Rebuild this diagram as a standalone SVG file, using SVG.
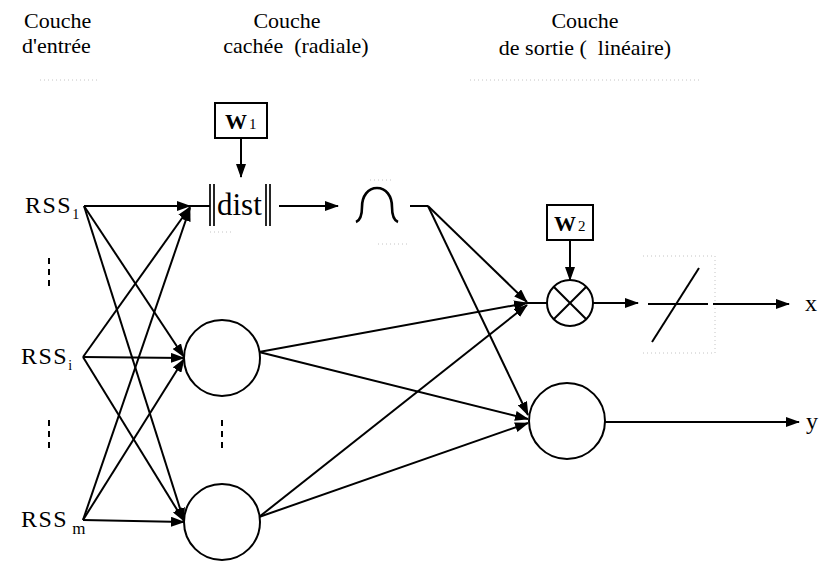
<svg xmlns="http://www.w3.org/2000/svg" width="822" height="565" viewBox="0 0 822 565">
  <style>
    text { font-family: "Liberation Serif", "Times New Roman", serif; fill: #000; white-space: pre; }
    .title { font-size: 22px; }
    .lbl { font-size: 24px; letter-spacing: 1.5px; }
    .sub { font-size: 14px; letter-spacing: 0; }
    .io { font-size: 24px; }
    .ln { stroke: #000; stroke-width: 2; fill: none; }
    .arr { stroke: #000; stroke-width: 2; fill: none; marker-end: url(#ah); }
    .node { stroke: #000; stroke-width: 2; fill: #fff; }
    .bar { stroke: #000; stroke-width: 1.7; }
    .dash { stroke: #000; stroke-width: 2; stroke-dasharray: 6 5; }
    .faint { stroke: #c4c4c4; stroke-width: 1; fill: none; stroke-dasharray: 1 3; }
  </style>
  <defs>
    <marker id="ah" viewBox="0 0 14 10" refX="13" refY="5" markerWidth="14" markerHeight="10" markerUnits="userSpaceOnUse" orient="auto">
      <path d="M0,0 L14,5 L0,10 z" fill="#000"/>
    </marker>
  </defs>
  <rect width="822" height="565" fill="#fff"/>

  <!-- layer headings -->
  <g id="headings">
    <text class="title" x="24" y="28">Couche</text>
    <text class="title" x="22" y="53">d'entrée</text>
    <text class="title" x="287" y="28" text-anchor="middle">Couche</text>
    <text class="title" x="296" y="53" text-anchor="middle">cachée  (radiale)</text>
    <text class="title" x="585" y="28" text-anchor="middle">Couche</text>
    <text class="title" x="585" y="55" text-anchor="middle">de sortie (  linéaire)</text>
  </g>

  <!-- light dotted rulings left by the layout grid -->
  <g id="rulings">
    <line class="faint" x1="40" y1="80" x2="100" y2="80"/>
    <line class="faint" x1="470" y1="80" x2="700" y2="80"/>
    <line class="faint" x1="210" y1="232" x2="232" y2="232"/>
    <line class="faint" x1="370" y1="180" x2="392" y2="180"/>
    <line class="faint" x1="378" y1="244" x2="410" y2="244"/>
    <path class="faint" d="M643 256 H715 V353 H640"/>
  </g>

  <!-- connectors -->
  <g id="connectors">
    <!-- inputs to hidden units -->
    <line class="arr" x1="84" y1="206" x2="190" y2="206"/>
    <line class="arr" x1="84" y1="206" x2="184" y2="357"/>
    <line class="arr" x1="84" y1="206" x2="184" y2="521"/>
    <line class="arr" x1="83" y1="357" x2="190" y2="207"/>
    <line class="arr" x1="83" y1="357" x2="184" y2="358"/>
    <line class="arr" x1="83" y1="357" x2="184" y2="521"/>
    <line class="arr" x1="83" y1="520" x2="190" y2="208"/>
    <line class="arr" x1="83" y1="520" x2="184" y2="359"/>
    <line class="arr" x1="83" y1="520" x2="184" y2="522"/>
    <line class="ln" x1="189" y1="206" x2="210" y2="206"/>
    <!-- radial unit chain -->
    <line class="arr" x1="279" y1="206" x2="338" y2="206"/>
    <line class="ln" x1="410" y1="206" x2="428" y2="206"/>
    <!-- hidden to output -->
    <line class="arr" x1="428" y1="206" x2="527" y2="302"/>
    <line class="arr" x1="428" y1="206" x2="528" y2="415"/>
    <line class="arr" x1="259" y1="352" x2="527" y2="303"/>
    <line class="arr" x1="259" y1="352" x2="528" y2="419"/>
    <line class="arr" x1="259" y1="517" x2="527" y2="305"/>
    <line class="arr" x1="259" y1="517" x2="528" y2="423"/>
    <line class="ln" x1="527" y1="303" x2="547" y2="303"/>
    <!-- weights -->
    <line class="arr" x1="241" y1="138" x2="241" y2="177"/>
    <line class="arr" x1="570" y1="240" x2="570" y2="280"/>
    <!-- output chain -->
    <line class="arr" x1="593" y1="303" x2="638" y2="303"/>
    <line class="arr" x1="713" y1="304" x2="789" y2="304"/>
    <line class="arr" x1="605" y1="422" x2="799" y2="422"/>
  </g>

  <!-- input labels -->
  <g id="in-rss1"><text class="lbl" x="25" y="213">RSS<tspan class="sub" dy="6">1</tspan></text></g>
  <g id="in-rssi"><text class="lbl" x="21" y="364">RSS<tspan class="sub" dy="6">i</tspan></text></g>
  <g id="in-rssm"><text class="lbl" x="21" y="527">RSS<tspan class="sub" dx="4" dy="7" style="font-size:17px">m</tspan></text></g>
  <g id="in-dots">
    <line class="dash" x1="49" y1="258" x2="49" y2="290"/>
    <line class="dash" x1="49" y1="420" x2="49" y2="450"/>
  </g>

  <!-- weight W1 -->
  <g id="w1">
    <rect x="215" y="103" width="52" height="35" fill="#fff" stroke="#000" stroke-width="2"/>
    <text x="225" y="129" style="font-size:22px;font-weight:bold">W<tspan style="font-size:15px;font-weight:normal" dx="2">1</tspan></text>
  </g>

  <!-- distance unit -->
  <g id="dist">
    <line class="bar" x1="210" y1="184" x2="210" y2="226"/>
    <line class="bar" x1="214" y1="184" x2="214" y2="226"/>
    <text x="217" y="215" style="font-size:31px">dist</text>
    <line class="bar" x1="266" y1="184" x2="266" y2="226"/>
    <line class="bar" x1="270" y1="184" x2="270" y2="226"/>
  </g>

  <!-- radial activation -->
  <g id="radbas">
    <path class="ln" style="stroke-width:2.6" d="M356 222 C361 220 362 214 362 207 C362 196 368 188 377 188 C386 188 392 196 392 207 C392 214 393 220 398 222"/>
  </g>

  <!-- hidden units -->
  <g id="hidden-2"><circle class="node" cx="222" cy="358" r="38"/></g>
  <g id="hidden-3"><circle class="node" cx="222" cy="522" r="38"/></g>
  <g id="hidden-dots"><line class="dash" x1="222" y1="420" x2="222" y2="450"/></g>

  <!-- weight W2 -->
  <g id="w2">
    <rect x="547" y="205" width="46" height="35" fill="#fff" stroke="#000" stroke-width="2"/>
    <text x="554" y="231" style="font-size:22px;font-weight:bold">W<tspan style="font-size:15px;font-weight:normal" dx="2">2</tspan></text>
  </g>

  <!-- product unit -->
  <g id="product">
    <circle class="node" cx="570" cy="303" r="23"/>
    <line class="ln" x1="553.7" y1="286.7" x2="586.3" y2="319.3"/>
    <line class="ln" x1="586.3" y1="286.7" x2="553.7" y2="319.3"/>
  </g>

  <!-- linear activation -->
  <g id="purelin">
    <line class="ln" x1="648" y1="304" x2="708" y2="304"/>
    <line class="ln" x1="652" y1="342" x2="699" y2="268"/>
  </g>
  <g id="out-x"><text class="io" x="805" y="311">x</text></g>

  <!-- second output unit -->
  <g id="output-2"><circle class="node" cx="567" cy="421" r="38"/></g>
  <g id="out-y"><text class="io" x="806" y="429">y</text></g>
</svg>
